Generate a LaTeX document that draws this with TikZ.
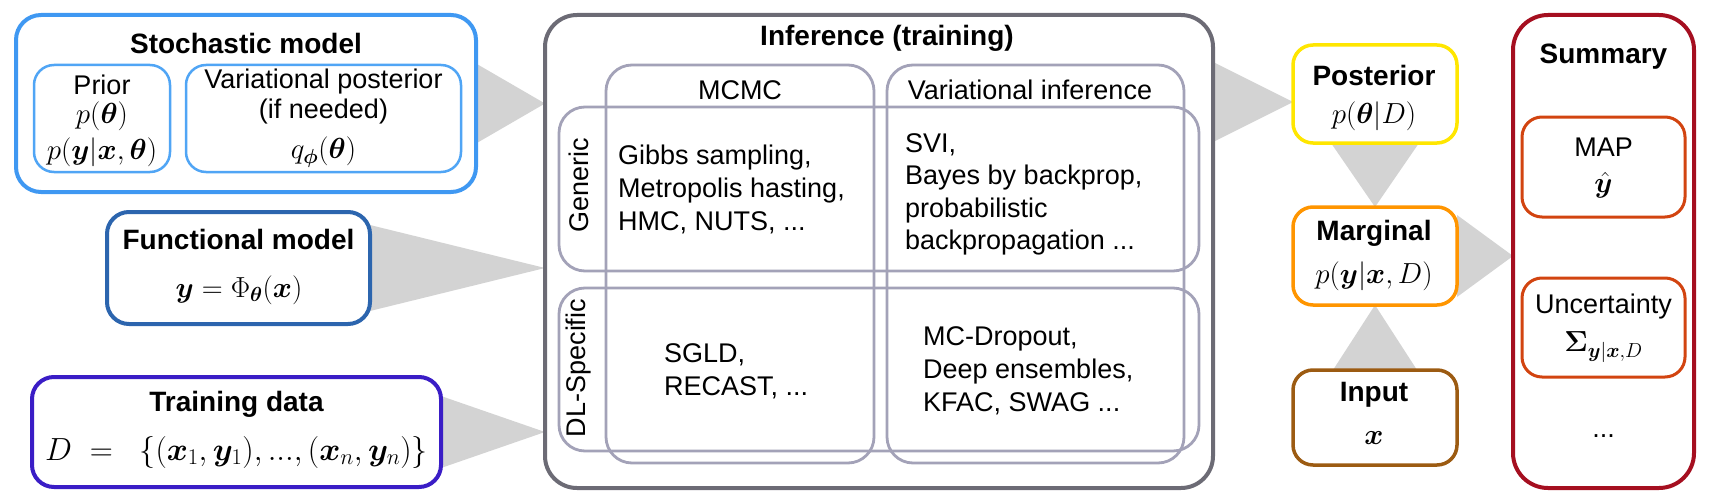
\RequirePackage{fix-cm}
\documentclass[tikz,border=0pt]{standalone}
\usepackage{amsmath,bm}
\usepackage[no-math]{fontspec}
\setmainfont{Liberation Sans}
\usetikzlibrary{calc,backgrounds}

\definecolor{stochblue}{RGB}{63,152,242}
\definecolor{stochlight}{RGB}{80,165,245}
\definecolor{funcblue}{RGB}{44,101,174}
\definecolor{trainviolet}{RGB}{58,29,198}
\definecolor{infergray}{RGB}{108,107,117}
\definecolor{cellgray}{RGB}{163,162,184}
\definecolor{wedgegray}{RGB}{211,211,211}
\definecolor{postyellow}{RGB}{255,230,0}
\definecolor{margorange}{RGB}{255,149,0}
\definecolor{inputbrown}{RGB}{156,91,18}
\definecolor{summred}{RGB}{165,15,32}
\definecolor{sumcell}{RGB}{210,68,16}

\tikzset{
	box/.style={draw, fill=white, rounded corners=22, line width=4, inner sep=0, outer sep=0},
	subbox/.style={draw, rounded corners=20, line width=2.5, inner sep=0, outer sep=0},
	cell/.style={draw=cellgray, rounded corners=26, line width=2.8, inner sep=0, outer sep=0},
	wedge/.style={fill=wedgegray},
	ttl/.style={font=\fontsize{28}{30}\selectfont\bfseries, inner sep=0},
	txt/.style={font=\fontsize{27}{30}\selectfont, inner sep=0},
	mth/.style={font=\fontsize{29}{32}\selectfont, inner sep=0}
}

% grey wedge from a base point (half width #3) to a tip
\def\wedgeh(#1)(#2)(#3){\fill[wedge] ($(#1)+(0,#3)$) -- ($(#1)-(0,#3)$) -- (#2) -- cycle;}
\def\wedgev(#1)(#2)(#3){\fill[wedge] ($(#1)+(#3,0)$) -- ($(#1)-(#3,0)$) -- (#2) -- cycle;}
\def\tdots{...}

\begin{document}
\begin{tikzpicture}[x=1pt, y=-1pt]
	%%%%% FRAME %%%%%
	\useasboundingbox (0,0) rectangle (1719,503);
	
	%%%%% LEFT: MODELS AND DATA %%%%%
	\node[box, draw=stochblue, rounded corners=25, minimum width=460, minimum height=177] (stoch) at (246,103.5) {};
	\node[subbox, draw=stochlight, minimum width=136, minimum height=107] (prior) at (102,118.5) {};
	\node[subbox, draw=stochlight, minimum width=275, minimum height=107] (varpost) at (323.5,118.5) {};
	\node[ttl] (stochT) at (246,43) {Stochastic model};
	\node[txt] (priorT) at (102,85) {Prior};
	\node[mth] (priorA) at (102,116) {$p(\bm{\theta})$};
	\node[mth] (priorB) at (102,152) {$p(\bm{y}|\bm{x},\bm{\theta})$};
	\node[txt] (varT) at (323.5,82) {Variational posterior};
	\node[txt] (varU) at (323.5,112) {(if needed)};
	\node[mth] (varA) at (323.5,152) {$q_{\bm{\phi}}(\bm{\theta})$};
	
	\node[box, draw=funcblue, minimum width=263, minimum height=112] (func) at (238.5,268) {};
	\node[ttl] (funcT) at (238.5,239) {Functional model};
	\node[mth] (funcA) at (239,290) {$\bm{y}=\Phi_{\bm{\theta}}(\bm{x})$};
	
	\node[box, draw=trainviolet, minimum width=409, minimum height=110] (train) at (236.5,432) {};
	\node[ttl] (trainT) at (236.5,404) {Training data};
	\node[mth, font=\fontsize{32}{34}\selectfont] (trainA) at (236.5,452) {$D\;=\;\;\{(\bm{x}_1,\bm{y}_1),...,(\bm{x}_n,\bm{y}_n)\}$};
	
	%%%%% MIDDLE: INFERENCE %%%%%
	\node[box, draw=infergray, rounded corners=32, minimum width=668, minimum height=473] (infer) at (879,251.5) {};
	\node[cell, minimum width=268, minimum height=398] (mcmc) at (740,264) {};
	\node[cell, minimum width=297, minimum height=398] (vi) at (1035.5,264) {};
	\node[cell, minimum width=640, minimum height=164] (generic) at (879,189) {};
	\node[cell, minimum width=640, minimum height=163] (dlspec) at (879,369.5) {};
	\node[ttl] (inferT) at (887,38) {Inference (training)};
	\node[txt] (mcmcT) at (740,90) {MCMC};
	\node[txt] (viT) at (1030,90) {Variational inference};
	\node[txt, rotate=90] (genericT) at (579,185) {Generic};
	\node[txt, rotate=90] (dlspecT) at (579,368) {DL-Specific};
	
	\foreach \t [count=\i from 0] in {{Gibbs sampling,},{Metropolis hasting,},{HMC, NUTS, \tdots}}
		\node[txt, anchor=base west] (mcg\i) at (618,164+33*\i) {\t};
	\foreach \t [count=\i from 0] in {{SVI,},{Bayes by backprop,},{probabilistic},{backpropagation \tdots}}
		\node[txt, anchor=base west] (vig\i) at (905,152+32.5*\i) {\t};
	\foreach \t [count=\i from 0] in {{SGLD,},{RECAST, \tdots}}
		\node[txt, anchor=base west] (mcd\i) at (664,362+33*\i) {\t};
	\foreach \t [count=\i from 0] in {{MC-Dropout,},{Deep ensembles,},{KFAC, SWAG \tdots}}
		\node[txt, anchor=base west] (vid\i) at (923,345+33*\i) {\t};
	
	%%%%% RIGHT: POSTERIOR, MARGINAL, INPUT %%%%%
	\node[box, draw=postyellow, line width=3.5, rounded corners=20, minimum width=164, minimum height=98] (post) at (1375,94) {};
	\node[ttl] (postT) at (1374,75) {Posterior};
	\node[mth] (postA) at (1374,116) {$p(\bm{\theta}|D)$};
	\coordinate (postin) at ($(post.west)+(0,8)$);
	
	\node[box, draw=margorange, line width=3.5, rounded corners=20, minimum width=164, minimum height=98] (marg) at (1375,256) {};
	\node[ttl] (margT) at (1374,233) {Marginal};
	\node[mth] (margA) at (1374,276) {$p(\bm{y}|\bm{x},D)$};
	
	\node[box, draw=inputbrown, line width=3.5, rounded corners=20, minimum width=164, minimum height=95] (input) at (1375,417.5) {};
	\node[ttl] (inputT) at (1374,395) {Input};
	\node[mth] (inputA) at (1374,438) {$\bm{x}$};
	
	%%%%% SUMMARY %%%%%
	\node[box, draw=summred, rounded corners=35, minimum width=181, minimum height=473] (summ) at (1603.5,251.5) {};
	\node[ttl] (summT) at (1603.5,57) {Summary};
	\node[box, draw=sumcell, line width=3, rounded corners=20, minimum width=163, minimum height=100] (map) at (1603.5,167) {};
	\node[txt] (mapT) at (1603.5,147) {MAP};
	\node[mth] (mapA) at (1603.5,185) {$\hat{\bm{y}}$};
	\node[box, draw=sumcell, line width=3, rounded corners=20, minimum width=163, minimum height=99] (unc) at (1603.5,327.5) {};
	\node[txt] (uncT) at (1603.5,307) {Uncertainty};
	\node[mth] (uncA) at (1603.5,347) {$\bm{\Sigma}_{\bm{y}|\bm{x},D}$};
	\node[txt] (more) at (1603.5,436) {\tdots};
	
	%%%%% WEDGES %%%%%
	\begin{scope}[on background layer]
		\wedgeh(stoch.east)(infer.west |- stoch.east)(40)
		\wedgeh(func.east)(infer.west |- func.east)(43)
		\wedgeh(train.east)(infer.west |- train.east)(36)
		\wedgeh(infer.east |- postin)(postin)(40)
		\wedgev(post.south)(marg.north)(44)
		\wedgev(input.north)(marg.south)(42)
		\wedgeh(marg.east)(summ.west |- marg.east)(41)
	\end{scope}
	
	%%%%% END %%%%%
\end{tikzpicture}
\end{document}
